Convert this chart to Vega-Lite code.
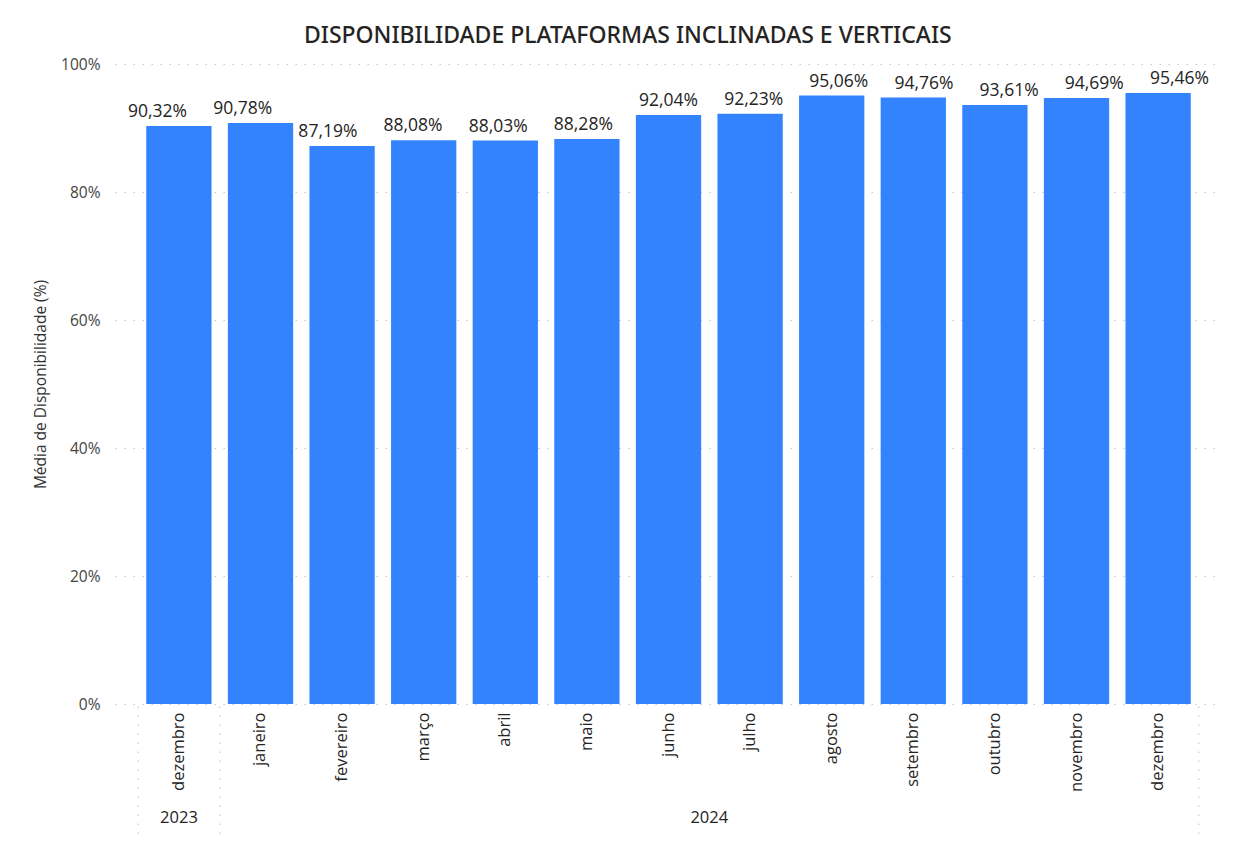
{
  "$schema": "https://vega.github.io/schema/vega-lite/v6.json",
  "autosize": {"type": "none"},
  "padding": {"left": 115, "top": 64, "right": 20, "bottom": 151},
  "width": 1107,
  "height": 640,
  "background": "white",
  "title": {
    "text": "DISPONIBILIDADE PLATAFORMAS INCLINADAS E VERTICAIS",
    "font": "Noto Sans",
    "fontSize": 23,
    "fontWeight": 500,
    "color": "#252423",
    "anchor": "middle",
    "frame": "bounds",
    "offset": 9
  },
  "config": {
    "locale": {"number": {"decimal": ",", "thousands": ".", "grouping": [3], "currency": ["R$", ""]}},
    "view": {"stroke": null},
    "font": "Open Sans"
  },
  "datasets": {
    "meses": [
      {"chave": "dezembro 2023", "mes": "dezembro", "ano": "2023", "valor": 0.9032},
      {"chave": "janeiro 2024", "mes": "janeiro", "ano": "2024", "valor": 0.9078},
      {"chave": "fevereiro 2024", "mes": "fevereiro", "ano": "2024", "valor": 0.8719},
      {"chave": "março 2024", "mes": "março", "ano": "2024", "valor": 0.8808},
      {"chave": "abril 2024", "mes": "abril", "ano": "2024", "valor": 0.8803},
      {"chave": "maio 2024", "mes": "maio", "ano": "2024", "valor": 0.8828},
      {"chave": "junho 2024", "mes": "junho", "ano": "2024", "valor": 0.9204},
      {"chave": "julho 2024", "mes": "julho", "ano": "2024", "valor": 0.9223},
      {"chave": "agosto 2024", "mes": "agosto", "ano": "2024", "valor": 0.9506},
      {"chave": "setembro 2024", "mes": "setembro", "ano": "2024", "valor": 0.9476},
      {"chave": "outubro 2024", "mes": "outubro", "ano": "2024", "valor": 0.9361},
      {"chave": "novembro 2024", "mes": "novembro", "ano": "2024", "valor": 0.9469},
      {"chave": "dezembro 2024", "mes": "dezembro", "ano": "2024", "valor": 0.9546}
    ],
    "anos": [
      {"ano": "2023", "centro": 0.5},
      {"ano": "2024", "centro": 7}
    ],
    "divisores": [
      {"pos": 0},
      {"pos": 1},
      {"pos": 13}
    ]
  },
  "resolve": {"scale": {"x": "independent"}, "axis": {"x": "independent"}},
  "layer": [
    {
      "data": {"name": "meses"},
      "mark": {"type": "bar", "color": "#3383FF"},
      "encoding": {
        "x": {
          "field": "chave",
          "type": "nominal",
          "sort": null,
          "scale": {"paddingInner": 0.2, "paddingOuter": 0.383},
          "axis": {
            "title": null,
            "labelExpr": "split(datum.label, ' ')[0]",
            "labelAngle": -90,
            "labelFontSize": 16.5,
            "labelColor": "#252423",
            "labelPadding": 8,
            "ticks": false,
            "domain": false,
            "grid": false
          }
        },
        "y": {
          "field": "valor",
          "type": "quantitative",
          "scale": {"domain": [0, 1], "nice": false},
          "axis": {
            "title": "Média de Disponibilidade (%)",
            "titleFontSize": 15.5,
            "titleFontWeight": "normal",
            "titleColor": "#333333",
            "titlePadding": 12,
            "format": ".0%",
            "values": [0, 0.2, 0.4, 0.6, 0.8, 1],
            "labelFontSize": 15.5,
            "labelColor": "#444444",
            "labelPadding": 15,
            "ticks": false,
            "domain": false,
            "grid": true,
            "gridColor": "#c8c8c8",
            "gridDash": [1.5, 7.5],
            "gridWidth": 1.2
          }
        }
      }
    },
    {
      "data": {"name": "meses"},
      "mark": {"type": "text", "baseline": "bottom", "dy": -5, "fontSize": 17.5, "color": "#252423"},
      "encoding": {
        "x": {
          "field": "chave",
          "type": "nominal",
          "sort": null,
          "scale": {"paddingInner": 0.2, "paddingOuter": 0.383},
          "axis": null
        },
        "y": {"field": "valor", "type": "quantitative", "scale": {"domain": [0, 1], "nice": false}},
        "text": {"field": "valor", "type": "quantitative", "format": ".2%"}
      }
    },
    {
      "data": {"name": "anos"},
      "mark": {"type": "text", "baseline": "middle", "fontSize": 16.5, "color": "#252423"},
      "encoding": {
        "x": {
          "field": "centro",
          "type": "quantitative",
          "scale": {"domain": [-0.284, 13.284], "nice": false, "zero": false},
          "axis": null
        },
        "y": {"datum": -0.178, "type": "quantitative", "scale": {"domain": [0, 1], "nice": false}},
        "text": {"field": "ano", "type": "nominal"}
      }
    },
    {
      "data": {"name": "divisores"},
      "mark": {"type": "rule", "color": "#c8c8c8", "strokeDash": [1.5, 7.5], "strokeWidth": 1.2},
      "encoding": {
        "x": {
          "field": "pos",
          "type": "quantitative",
          "scale": {"domain": [-0.284, 13.284], "nice": false, "zero": false},
          "axis": null
        },
        "y": {"datum": -0.004, "type": "quantitative", "scale": {"domain": [0, 1], "nice": false}},
        "y2": {"datum": -0.205}
      }
    }
  ]
}
